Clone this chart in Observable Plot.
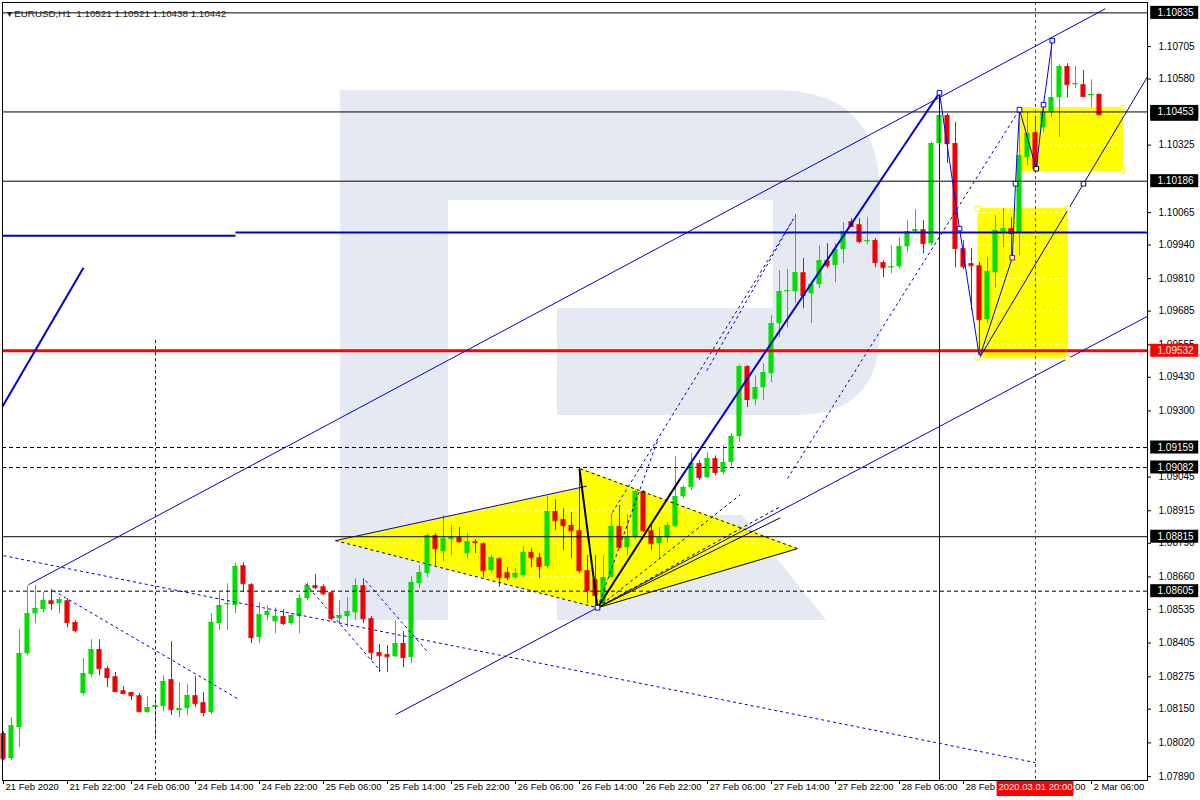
<!DOCTYPE html>
<html><head><meta charset="utf-8">
<script src="https://cdn.jsdelivr.net/npm/d3@7"></script>
<script src="https://cdn.jsdelivr.net/npm/@observablehq/plot@0.6"></script>
<style>
body{margin:0;background:#fff;}
#wrap{position:relative;width:1200px;height:800px;overflow:hidden;}
#wm{position:absolute;left:0;top:0;}
#chart{position:absolute;left:0;top:0;}
</style></head>
<body><div id="wrap">
<svg id="wm" width="1200" height="800"><g fill="#e5e9f2">
<rect x="340" y="90" width="108" height="530"/>
<path d="M448 90 H775 Q880 90 880 195 V330 Q880 415 795 415 H557 V308 H773 V200 H448 Z"/>
<path d="M557 515 H742 L826 620 H557 Z"/>
</g></svg>
<div id="chart"></div></div>
<script>
// ---- data ----
const headerText = "▾ EURUSD,H1  1.10521 1.10521 1.10438 1.10442";
const xLabels = ["21 Feb 2020","21 Feb 22:00","24 Feb 06:00","24 Feb 14:00","24 Feb 22:00","25 Feb 06:00","25 Feb 14:00","25 Feb 22:00","26 Feb 06:00","26 Feb 14:00","26 Feb 22:00","27 Feb 06:00","27 Feb 14:00","27 Feb 22:00","28 Feb 06:00","28 Feb 14:00","28 Feb 22:00","2 Mar 06:00"];
const barsPerLabel = 8;
const open = [
1.08056,1.07959,1.08079,1.08364,1.08518,1.08534,1.08568,1.08557,1.08568,1.08484,
1.08210,1.08283,1.08380,1.08306,1.08275,1.08221,1.08214,1.08202,1.08137,1.08156,
1.08160,1.08264,1.08144,1.08152,1.08202,1.08175,1.08137,1.08480,1.08553,1.08549,
1.08703,1.08630,1.08426,1.08511,1.08487,1.08507,1.08480,1.08507,1.08576,1.08626,
1.08622,1.08599,1.08499,1.08507,1.08522,1.08626,1.08499,1.08368,1.08360,1.08352,
1.08403,1.08349,1.08634,1.08673,1.08819,1.08757,1.08804,1.08811,1.08750,1.08796,
1.08788,1.08684,1.08730,1.08676,1.08657,1.08665,1.08754,1.08734,1.08700,1.08912,
1.08881,1.08858,1.08838,1.08684,1.08649,1.08557,1.08657,1.08854,1.08773,1.08811,
1.08989,1.08838,1.08788,1.08811,1.08854,1.08969,1.09004,1.09097,1.09043,1.09116,
1.09062,1.09101,1.09201,1.09471,1.09344,1.09390,1.09444,1.09637,1.09760,1.09760,
1.09833,1.09752,1.09787,1.09879,1.09860,1.09922,1.10030,1.10018,1.09953,1.09957,
1.09872,1.09852,1.09856,1.09933,1.09991,1.09999,1.09945,1.10331,1.10439,1.10331,
1.09926,1.09868,1.09860,1.09652,1.09833,1.09991,1.10003,1.09987,1.10277,1.10373,
1.10392,1.10450,1.10508,1.10628,1.10558,1.10558,1.10516,1.10521];
const close = [
1.07959,1.08086,1.08364,1.08518,1.08538,1.08568,1.08557,1.08572,1.08484,1.08453,
1.08287,1.08380,1.08306,1.08272,1.08218,1.08210,1.08202,1.08140,1.08156,1.08164,
1.08256,1.08148,1.08152,1.08202,1.08171,1.08137,1.08484,1.08549,1.08557,1.08700,
1.08634,1.08426,1.08514,1.08526,1.08507,1.08480,1.08511,1.08576,1.08626,1.08619,
1.08595,1.08499,1.08511,1.08526,1.08626,1.08499,1.08368,1.08356,1.08352,1.08403,
1.08349,1.08638,1.08676,1.08819,1.08769,1.08807,1.08811,1.08796,1.08796,1.08792,
1.08684,1.08734,1.08657,1.08657,1.08673,1.08754,1.08734,1.08700,1.08912,1.08877,
1.08858,1.08838,1.08684,1.08607,1.08588,1.08657,1.08854,1.08773,1.08811,1.08989,
1.08838,1.08788,1.08811,1.08858,1.08969,1.09004,1.09097,1.09043,1.09116,1.09062,
1.09101,1.09201,1.09471,1.09344,1.09390,1.09448,1.09637,1.09760,1.09764,1.09833,
1.09745,1.09787,1.09879,1.09860,1.09922,1.09991,1.10011,1.09953,1.09957,1.09872,
1.09852,1.09856,1.09933,1.09991,1.09999,1.09945,1.10331,1.10439,1.10331,1.09926,
1.09856,1.09860,1.09652,1.09837,1.09995,1.10003,1.09984,1.10284,1.10369,1.10234,
1.10450,1.10508,1.10628,1.10558,1.10562,1.10512,1.10520,1.10442];
const high = [
1.08063,1.08117,1.08457,1.08626,1.08626,1.08599,1.08611,1.08580,1.08576,1.08491,
1.08345,1.08418,1.08418,1.08314,1.08291,1.08237,1.08214,1.08210,1.08198,1.08194,
1.08279,1.08410,1.08252,1.08245,1.08275,1.08214,1.08518,1.08599,1.08634,1.08711,
1.08715,1.08634,1.08561,1.08549,1.08541,1.08534,1.08518,1.08592,1.08638,1.08669,
1.08630,1.08603,1.08568,1.08580,1.08653,1.08653,1.08507,1.08399,1.08395,1.08491,
1.08449,1.08661,1.08703,1.08827,1.08827,1.08896,1.08858,1.08851,1.08827,1.08804,
1.08792,1.08742,1.08734,1.08696,1.08692,1.08777,1.08769,1.08750,1.08969,1.08958,
1.08923,1.08908,1.09077,1.08742,1.08742,1.08742,1.08904,1.08935,1.08900,1.08993,
1.08993,1.08858,1.08851,1.08869,1.09124,1.09012,1.09135,1.09108,1.09139,1.09127,
1.09166,1.09212,1.09478,1.09475,1.09436,1.09482,1.09667,1.09841,1.09845,1.10057,
1.09887,1.09791,1.09937,1.09945,1.09945,1.10026,1.10041,1.10041,1.10045,1.09964,
1.09879,1.09937,1.09968,1.10034,1.10076,1.10034,1.10338,1.10527,1.10446,1.10412,
1.09957,1.09926,1.09872,1.09891,1.10053,1.10080,1.10045,1.10458,1.10450,1.10431,
1.10485,1.10728,1.10635,1.10639,1.10628,1.10612,1.10577,1.10521];
const low = [
1.07951,1.07951,1.08002,1.08356,1.08480,1.08522,1.08530,1.08518,1.08464,1.08445,
1.08202,1.08272,1.08279,1.08233,1.08218,1.08206,1.08183,1.08137,1.08133,1.08040,
1.08140,1.08125,1.08117,1.08125,1.08156,1.08121,1.08129,1.08453,1.08453,1.08518,
1.08599,1.08403,1.08403,1.08491,1.08441,1.08472,1.08472,1.08441,1.08568,1.08611,
1.08588,1.08491,1.08480,1.08464,1.08491,1.08480,1.08337,1.08291,1.08291,1.08349,
1.08310,1.08325,1.08615,1.08657,1.08703,1.08719,1.08742,1.08788,1.08730,1.08750,
1.08657,1.08676,1.08619,1.08646,1.08649,1.08657,1.08696,1.08653,1.08692,1.08838,
1.08761,1.08730,1.08673,1.08557,1.08541,1.08549,1.08657,1.08769,1.08742,1.08804,
1.08831,1.08761,1.08727,1.08788,1.08850,1.08962,1.08993,1.09031,1.09039,1.09050,
1.09054,1.09085,1.09178,1.09313,1.09320,1.09340,1.09409,1.09583,1.09621,1.09714,
1.09694,1.09637,1.09772,1.09849,1.09795,1.09868,1.10007,1.09945,1.09941,1.09852,
1.09814,1.09829,1.09849,1.09910,1.09984,1.09906,1.09937,1.10277,1.10254,1.09852,
1.09845,1.09687,1.09505,1.09637,1.09775,1.09930,1.09891,1.09899,1.10246,1.10227,
1.10373,1.10431,1.10354,1.10508,1.10543,1.10508,1.10469,1.10438];

const yTicks = [1.07890,1.08020,1.08150,1.08275,1.08405,1.08535,1.08660,1.08790,1.08915,1.09045,1.09175,1.09300,1.09430,1.09555,1.09685,1.09810,1.09940,1.10065,1.10195,1.10325,1.10450,1.10580,1.10705,1.10835];
const hiddenTickLabels = [1.09175,1.10195,1.10450,1.10835];
const solidLevels = [1.10835,1.10453,1.10186,1.08815];
const dashedLevels = [1.09159,1.09082,1.08605];
const redLevel = 1.09532;
const bidPrice = 1.10442;
const blueLevelSegs = [[-0.125,1.09976,29,1.09976],[29,1.09988,143,1.09988]];

// annotation segments [bar1, price1, bar2, price2]
const thinBlueSegs = [[3.125,1.08630,137.75,1.10851],[49,1.08129,143,1.09665],[41.5,1.08800,72.9,1.09010]];
const navySegs = [[122,1.09505,143,1.10589]];
const thickBlueSegs = [[-0.125,1.09317,10,1.09852],[84.6,1.09039,117,1.10527]];
const thickBlackSegs = [[72,1.09077,74.25,1.08541],[74.25,1.08541,84.6,1.09039]];
const fanSolidSegs = [[74.25,1.08541,99.25,1.08769],[74.25,1.08541,97.1,1.08888]];
const fanDashedSegs = [[74.25,1.08541,97.1,1.08931],[74.25,1.08541,92.1,1.08977],[72.1,1.09077,99.25,1.08769]];
const navyDashedSegs = [[41.5,1.08800,74.25,1.08541]];
const blueDottedSegs = [
 [0,1.08742,129,1.07944],[6.25,1.08607,29.25,1.08191],[37.75,1.08634,47.1,1.08298],[45.25,1.08646,53.1,1.08368],
 [74.25,1.08541,81.75,1.09185],[76.1,1.08908,99,1.10053],[87.9,1.09455,98.75,1.10041],[98,1.09039,127,1.10462]];
const zigzag = [[117,1.10527],[119.5,1.10003],[122,1.09505],[126.1,1.09891],[126.5,1.10176],[127,1.10462],[129.1,1.10234],[130,1.10481],[131.1,1.10728]];
const peakBar = 117, peakPrice = 1.10527;
const dashedVBar = 19, dashedVTop = 1.09571;
const timeMark = {bar:129, label:"2020.03.01 20:00"};

const triangle1 = [[41.5,1.08800],[72.5,1.09004],[74.25,1.08541]];
const triangle2 = [[72.1,1.09077],[99.25,1.08769],[74.25,1.08541]];
const rect1 = [[121.75,1.10080],[133,1.10080],[133,1.09505],[121.75,1.09505]];
const rect2 = [[127,1.10469],[139.9,1.10469],[139.9,1.10227],[127,1.10227]];

const blueSquares = [[117,1.10527],[119.5,1.10003],[126.5,1.10176],[127,1.10462],[130,1.10481],[131.1,1.10728],[74.25,1.08541]];
const purpleSquares = [[126.1,1.09891]];
const blackSquares = [[129.1,1.10234]];
const navySquares = [[135,1.10176]];
const yellowSquares = [[121.75,1.10080],[133,1.10080],[133,1.09505],[121.75,1.09505],[139.9,1.10469],[139.9,1.10227]];

// ---- build ----
const W=1200,H=800,mL=2,mR=53,mT=2,mB=20;
const xDomain=[-0.125,143], yDomain=[1.07875,1.10875];
const bars = open.map((o,i)=>({i,open:o,high:high[i],low:low[i],close:close[i]}));
const UP="#00e000", DN="#f00000";
const col = d => d.close>=d.open?UP:DN;
const seg = a => a.map(s=>({x1:s[0],y1:s[1],x2:s[2],y2:s[3]}));
function hSpan(poly, level){
  const xs=[];
  for(let k=0;k<poly.length;k++){
    const a=poly[k], b=poly[(k+1)%poly.length];
    if(a[1]===b[1]) continue;
    if((a[1]-level)*(b[1]-level)<=0){const t=(level-a[1])/(b[1]-a[1]); xs.push(a[0]+t*(b[0]-a[0]));}
  }
  return xs.length>=2?[Math.min(...xs),Math.max(...xs)]:null;
}
const gridSegs=[];
for(const poly of [triangle1,triangle2,rect1,rect2]) for(const lv of yTicks){const s=hSpan(poly,lv); if(s) gridSegs.push({x1:s[0],x2:s[1],y:lv});}
const xTickIdx = xLabels.map((_,k)=>k*barsPerLabel);
const yLabelTicks = yTicks.filter(t=>!hiddenTickLabels.includes(t));
const boxes = [...solidLevels,...dashedLevels].map(p=>({p,color:"#000"})).concat([{p:redLevel,color:"#ff0000"}]);
const sq = a => a.map(d=>({x:d[0],y:d[1]}));
const linkOpts = (stroke,w,dash)=>({x1:"x1",y1:"y1",x2:"x2",y2:"y2",stroke,strokeWidth:w,strokeDasharray:dash});
const poly = (p)=>Plot.line(p,{x:d=>d[0],y:d=>d[1],fill:"#ffff00",stroke:"#ffff00",strokeWidth:1});
const dots = (a,stroke,fill)=>Plot.dot(sq(a),{x:"x",y:"y",symbol:"square",r:2.6,stroke,fill,strokeWidth:1});

const chart = Plot.plot({
  width:W,height:H,marginLeft:mL,marginRight:mR,marginTop:mT,marginBottom:mB,
  x:{type:"linear",domain:xDomain,axis:null},
  y:{type:"linear",domain:yDomain,axis:null},
  style:{background:"transparent",fontFamily:"'Liberation Sans',Arial,sans-serif",fontSize:"10px",color:"black"},
  marks:[
    poly(triangle1),poly(triangle2),poly(rect1),poly(rect2),
    Plot.ruleY(gridSegs,{y:"y",x1:"x1",x2:"x2",stroke:"white",strokeDasharray:"3,3",strokeWidth:1}),
    // candles
    Plot.ruleX(bars,{x:"i",y1:"low",y2:"high",stroke:col,strokeWidth:1}),
    Plot.rect(bars,{x1:d=>d.i-0.32,x2:d=>d.i+0.32,y1:"open",y2:"close",fill:col}),
    Plot.ruleY(bars,{y:"close",x1:d=>d.i-0.32,x2:d=>d.i+0.32,stroke:col,strokeWidth:1}),
    // levels
    Plot.ruleY(solidLevels,{y:d=>d,stroke:"#000",strokeWidth:1}),
    Plot.ruleY(dashedLevels,{y:d=>d,stroke:"#000",strokeWidth:1,strokeDasharray:"4,3"}),
    Plot.link(seg(blueLevelSegs),linkOpts("#0000cd",2)),
    Plot.ruleY([redLevel],{y:d=>d,stroke:"#ff0000",strokeWidth:3}),
    Plot.ruleX([peakBar],{x:d=>d,y1:peakPrice,y2:yDomain[0],stroke:"#0000cd",strokeWidth:1}),
    Plot.ruleX([dashedVBar],{x:d=>d,y1:dashedVTop,y2:yDomain[0],stroke:"#0000cd",strokeWidth:1,strokeDasharray:"3,3"}),
    Plot.ruleX([timeMark.bar],{x:d=>d,stroke:"#ff0000",strokeWidth:1,strokeDasharray:"3,3"}),
    // trend objects
    Plot.link(seg(thinBlueSegs),linkOpts("#0000cd",1)),
    Plot.link(seg(navySegs),linkOpts("#000080",1)),
    Plot.link(seg(blueDottedSegs),linkOpts("#0000cd",1,"3,3")),
    Plot.link(seg(navyDashedSegs),linkOpts("#000080",1,"3,3")),
    Plot.link(seg(fanSolidSegs),linkOpts("#000",1)),
    Plot.link(seg(fanDashedSegs),linkOpts("#000",1,"3,3")),
    Plot.link(seg(thickBlackSegs),linkOpts("#000",2)),
    Plot.link(seg(thickBlueSegs),linkOpts("#0000cd",2)),
    Plot.line(zigzag,{x:d=>d[0],y:d=>d[1],stroke:"#0000ff",strokeWidth:1}),
    dots(blueSquares,"#0000ff","white"),dots(purpleSquares,"#800080","white"),dots(blackSquares,"#000","white"),
    dots(navySquares,"#000080","white"),dots(yellowSquares,"#ffff00","white"),
    // frame & axes
    Plot.frame({stroke:"#000"}),
    Plot.ruleY(yLabelTicks,{y:d=>d,insetLeft:1145,insetRight:-4,stroke:"#000"}),
    Plot.text(yLabelTicks,{y:d=>d,text:d=>d.toFixed(5),frameAnchor:"right",dx:11,textAnchor:"start",fill:"#000"}),
    Plot.rect([{p:bidPrice}],{y1:"p",y2:"p",x1:143.4,x2:149.4,insetTop:-6.5,insetBottom:-6.5,fill:"#000"}),
    Plot.text([{p:bidPrice}],{y:"p",text:d=>d.p.toFixed(5),frameAnchor:"right",dx:10,textAnchor:"start",fill:"#fff"}),
    Plot.rect(boxes,{y1:"p",y2:"p",x1:143.4,x2:149.4,insetTop:-6.5,insetBottom:-6.5,fill:"color"}),
    Plot.text(boxes,{y:"p",text:d=>d.p.toFixed(5),frameAnchor:"right",dx:10,textAnchor:"start",fill:"#fff"}),
    Plot.ruleX(xTickIdx,{x:d=>d,insetTop:778,insetBottom:-4,stroke:"#000"}),
    Plot.text(xTickIdx,{x:d=>d,text:(d,k)=>xLabels[k],frameAnchor:"bottom",dy:9,dx:2,textAnchor:"start",fill:"#000",fontSize:9.5}),
    Plot.rect([timeMark],{x1:d=>d.bar-4.8,x2:d=>d.bar+4.8,y1:yDomain[0],y2:yDomain[0],insetTop:1,insetBottom:-16,fill:"#ff0000"}),
    Plot.text([timeMark],{x:"bar",text:"label",frameAnchor:"bottom",dy:9,textAnchor:"middle",fill:"#fff",fontSize:9.5}),
    Plot.text([headerText],{frameAnchor:"top-left",dx:4,dy:8,textAnchor:"start",fontSize:9.8,fill:"#222",text:d=>d})
  ]
});
document.getElementById("chart").appendChild(chart);
</script>
</body></html>
